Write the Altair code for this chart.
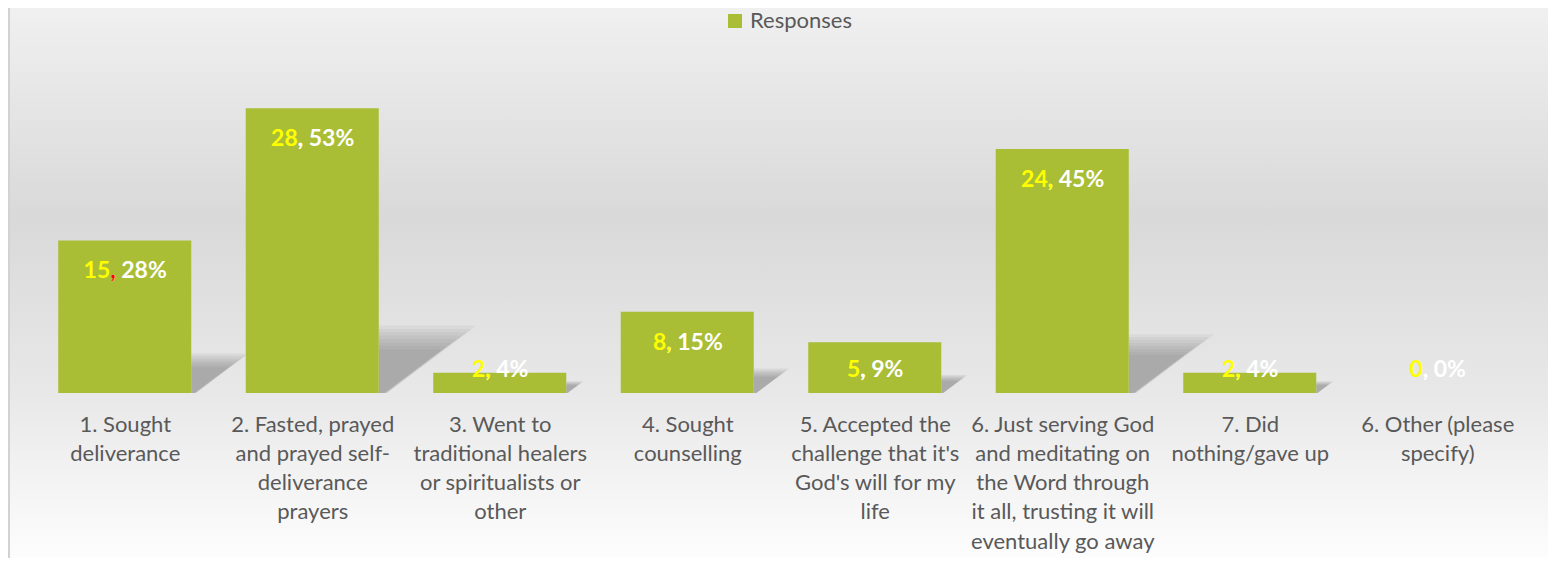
import json
import altair as alt
import pandas as pd

# ---------------- data ----------------
categories = [
    "1. Sought|deliverance",
    "2. Fasted, prayed|and prayed self-|deliverance|prayers",
    "3. Went to|traditional healers|or spiritualists or|other",
    "4. Sought|counselling",
    "5. Accepted the|challenge that it's|God's will for my|life",
    "6. Just serving God|and meditating on|the Word through|it all, trusting it will|eventually go away",
    "7. Did|nothing/gave up",
    "6. Other (please|specify)",
]
counts = [15, 28, 2, 8, 5, 24, 2, 0]
percents = ["28%", "53%", "4%", "15%", "9%", "45%", "4%", "0%"]
comma_colors = ["#FF0000", "#FFFFFF", "#FFFF00", "#FFFF00", "#FFFFFF", "#FFFF00", "#FFFF00", "#FFFFFF"]
series_name = "Responses"

df = pd.DataFrame({
    "idx": list(range(len(categories))),
    "category": categories,
    "count": counts,
    "pct": percents,
    "comma_color": comma_colors,
})

# ---------------- styling constants ----------------
W, H = 1500, 305
PAD = {"left": 23, "top": 80, "right": 17, "bottom": 165}
N = len(categories)
STEP = W / N
HALF_BAR = 0.3547
GREEN = "#A9BD35"
FONT = "Lato"
PX_PER_UNIT = H / 30.0

xscale = alt.Scale(domain=[0, N], nice=False, zero=False)
yscale = alt.Scale(domain=[0, 30], nice=False)

label_expr = "split(%s[floor(datum.value)], '|')" % json.dumps(categories)
xaxis = alt.Axis(
    values=[i + 0.5 for i in range(N)], labelExpr=label_expr, title=None,
    domain=False, ticks=False, grid=False, labelFont=FONT, labelFontSize=22,
    labelColor="#595959", labelLineHeight=29.3, labelPadding=21, labelLimit=0,
    labelOverlap=False, labelFlush=False, labelBaseline="top", zindex=2,
)

base = alt.Chart(df)

# background gradient
bg = base.transform_filter("datum.idx == 0").mark_rect(
    color=alt.Gradient(
        gradient="linear", x1=0, x2=0, y1=0, y2=1,
        stops=[
            alt.GradientStop(offset=0, color="#f0f0f0"),
            alt.GradientStop(offset=0.38, color="#d9d9d9"),
            alt.GradientStop(offset=0.7, color="#e8e8e8"),
            alt.GradientStop(offset=1, color="#fdfdfd"),
        ],
    )
).encode(
    x=alt.value(-PAD["left"]), x2=alt.value(W + PAD["right"]),
    y=alt.value(-PAD["top"]), y2=alt.value(H + PAD["bottom"]),
)

border = base.transform_filter("datum.idx == 0").mark_rule(
    color="#d2d2d2", strokeWidth=2
).encode(
    x=alt.value(-PAD["left"] + 1), y=alt.value(-PAD["top"]), y2=alt.value(H + PAD["bottom"]),
)

# soft perspective shadows: stacked translucent wedge symbols anchored at each bar's bottom-right
WEDGE = "M0,0 L0,-2 L2.9,-2 L0.25,0 Z"
shadow_layers = []
for k in [1.0, 0.95, 0.9, 0.85, 0.8, 0.75, 0.7, 0.65]:
    sh = base.transform_filter("datum.count > 0").transform_calculate(
        sxx=f"datum.idx + 0.5 + {HALF_BAR}",
        ssz=f"pow({k}*(0.21*datum.count + 0.75)*{PX_PER_UNIT}, 2)",
        zero="0",
    ).mark_point(
        shape=WEDGE, filled=True, color="#6e6e6e", opacity=0.075, strokeWidth=0
    ).encode(
        x=alt.X("sxx:Q", scale=xscale, axis=xaxis),
        y=alt.Y("zero:Q", scale=yscale, axis=None),
        size=alt.Size("ssz:Q", scale=None),
    )
    shadow_layers.append(sh)

bars = base.transform_calculate(
    x0=f"datum.idx + 0.5 - {HALF_BAR}",
    x1=f"datum.idx + 0.5 + {HALF_BAR}",
    series=f"'{series_name}'",
).mark_rect().encode(
    x=alt.X("x0:Q", scale=xscale, axis=xaxis),
    x2="x1:Q",
    y=alt.Y("count:Q", scale=yscale, axis=None),
    y2=alt.datum(0),
    color=alt.Color(
        "series:N",
        scale=alt.Scale(domain=[series_name], range=[GREEN]),
        legend=alt.Legend(
            title=None, orient="none", legendX=693, legendY=-78,
            symbolType="square", symbolSize=196, symbolStrokeWidth=0,
            labelFont=FONT, labelFontSize=22, labelColor="#595959",
            labelOffset=4, padding=0,
        ),
    ),
)

FS = 23
lab = base.transform_calculate(
    cw="13*length(toString(datum.count))",
    tw="13*length(toString(datum.count)) + 10 + 13*(length(datum.pct) - 1) + 19",
).transform_calculate(
    pivot=f"datum.idx + 0.5 + (datum.cw - datum.tw/2) / {STEP}",
    ly="max(datum.count - 2.85, 2.45)",
    rest="', ' + datum.pct",
)
txt_kw = dict(font=FONT, fontSize=FS, fontWeight="bold", baseline="middle", dy=2)
count_txt = lab.mark_text(align="right", color="#FFFF00", **txt_kw).encode(
    x=alt.X("pivot:Q", scale=xscale, axis=xaxis), y=alt.Y("ly:Q", scale=yscale, axis=None), text="count:N"
)
rest_txt = lab.mark_text(align="left", color="#FFFFFF", **txt_kw).encode(
    x=alt.X("pivot:Q", scale=xscale, axis=xaxis), y=alt.Y("ly:Q", scale=yscale, axis=None), text="rest:N"
)
comma_txt = lab.mark_text(align="left", **txt_kw).encode(
    x=alt.X("pivot:Q", scale=xscale, axis=xaxis), y=alt.Y("ly:Q", scale=yscale, axis=None),
    text=alt.value(","), color=alt.Color("comma_color:N", scale=None),
)

chart = alt.layer(
    bg, border, *shadow_layers, bars, count_txt, rest_txt, comma_txt
).properties(
    width=W, height=H, padding=PAD, autosize="none", background="white",
).configure_view(stroke=None)

chart.save("out.html", embed_options={"renderer": "svg", "actions": False})
